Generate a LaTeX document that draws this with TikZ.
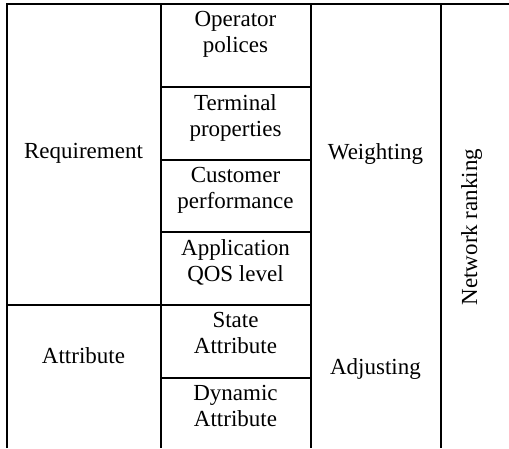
\documentclass[tikz,border=0pt]{standalone}
\usepackage{fontspec}
\setmainfont{Liberation Serif}
\begin{document}
\begin{tikzpicture}[x=1pt,y=-1pt,
  rule/.style={line width=2pt,line join=miter},
  txt/.style={inner sep=0pt,font=\fontsize{23}{26}\selectfont},
  cell/.style={txt,anchor=north,align=center},
  label/.style={txt,anchor=base}]
\useasboundingbox (0,0) rectangle (509,448);

% frame and column rules
\draw[rule] (7,448) -- (7,4) -- (509,4);
\draw[rule] (161,4) -- (161,448);
\draw[rule] (311,4) -- (311,448);
\draw[rule] (441,4) -- (441,448);

% row rules of the middle column
\foreach \y in {87,160,232,378}
  \draw[rule] (161,\y) -- (311,\y);
\draw[rule] (7,305) -- (311,305);

% group labels
\node[label] (req)  at (83.5,158) {Requirement};
\node[label] (attr) at (83.5,363) {Attribute};
\node[label] (wgt)  at (375.5,159) {Weighting};
\node[label] (adj)  at (375.5,374) {Adjusting};
\node[label,rotate=90] (rank) at (477,227) {Network ranking};

% factor cells
\node[cell] (op)  at (235.5,11.4)  {Operator\\polices};
\node[cell] (ter) at (235.5,94.4)  {Terminal\\properties};
\node[cell] (cus) at (235.5,167.4) {Customer\\performance};
\node[cell] (app) at (235.5,239.4) {Application\\QOS level};
\node[cell] (st)  at (235.5,312.4) {State\\Attribute};
\node[cell] (dyn) at (235.5,385.4) {Dynamic\\Attribute};
\end{tikzpicture}
\end{document}
